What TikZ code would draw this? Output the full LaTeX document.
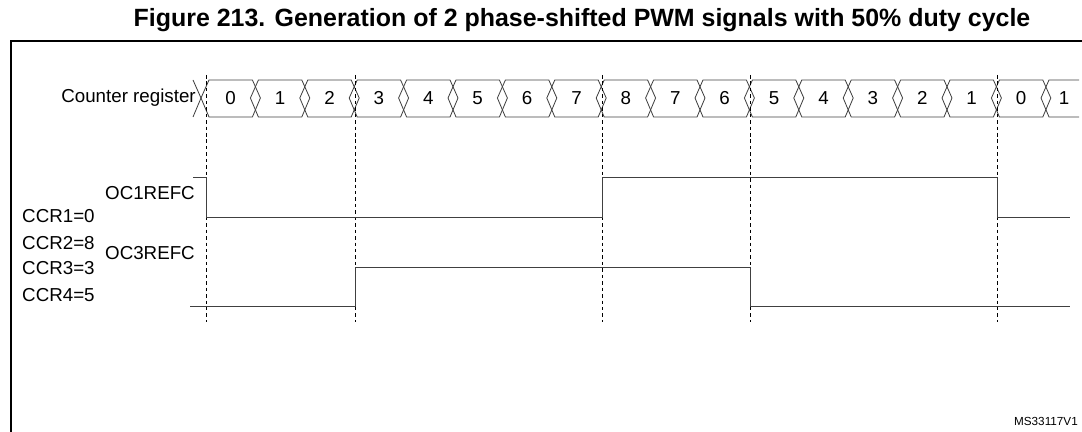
\documentclass[tikz,border=0pt]{standalone}
\usepackage{fontspec}
\setmainfont{Liberation Sans}
\usetikzlibrary{positioning}
\begin{document}
\begin{tikzpicture}[x=0.03cm,y=-0.03cm,
    wave/.style={line width=0.7pt,draw=black!75},
    guide/.style={dashed,line width=0.6pt,dash pattern=on 3pt off 2.5pt},
    lbl/.style={font=\fontsize{16pt}{18pt}\selectfont,inner sep=0pt}]
  \useasboundingbox (0,0) rectangle (1082,432);
  % title and frame
  \node (title) at (582,20) {\fontsize{21.3pt}{24pt}\selectfont\bfseries Figure 213. Generation of 2 phase-shifted PWM signals with 50\% duty cycle};
  \draw [line width=1.3pt] (11,433) -- (11,41) -- (1083,41);
  % counter register bus
  \node [lbl,anchor=east] (cnt) at (196,98) {Counter register};
  \draw [wave] (193,80) -- (201,98) -- (193,117);
  \foreach \v [count=\i from 0] in {0,1,2,3,4,5,6,7,8,7,6,5,4,3,2,1,0} {
    \pgfmathsetmacro{\xa}{206+49.4*\i}
    \pgfmathsetmacro{\xb}{206+49.4*(\i+1)}
    \draw [wave] (\xa-5,98) -- (\xa+3,80) -- (\xb-3,80) -- (\xb+5,98) -- (\xb-3,117) -- (\xa+3,117) -- cycle;
    \node [lbl] (c\i) at ({(\xa+\xb)/2},98) {\v};
  }
  \draw [wave] (1079,80) -- (1049,80) -- (1041,98) -- (1049,117) -- (1079,117);
  \node [lbl] (c17) at (1064,98) {1};
  % guides
  \foreach \x in {206,355,602,750,997}
    \draw [guide] (\x,75) -- (\x,322);
  % signals
  \node [lbl,anchor=east] (oc1) at (195,193) {OC1REFC};
  \node [lbl,anchor=east] (oc3) at (195,253) {OC3REFC};
  \node [lbl,anchor=west] (ccr1) at (22,216) {CCR1=0};
  \node [lbl,anchor=west] (ccr2) at (22,243) {CCR2=8};
  \node [lbl,anchor=west] (ccr3) at (22,268) {CCR3=3};
  \node [lbl,anchor=west] (ccr4) at (22,295) {CCR4=5};
  \draw [wave] (193,177) -- (206,177) -- (206,217) -- (602,217) -- (602,177) -- (997,177) -- (997,217) -- (1070,217);
  \draw [wave] (190,306) -- (355,306) -- (355,267) -- (750,267) -- (750,306) -- (1070,306);
  \node [anchor=south east,inner sep=0pt,font=\fontsize{10pt}{12pt}\selectfont] (ref) at (1078,426) {MS33117V1};
\end{tikzpicture}
\end{document}
